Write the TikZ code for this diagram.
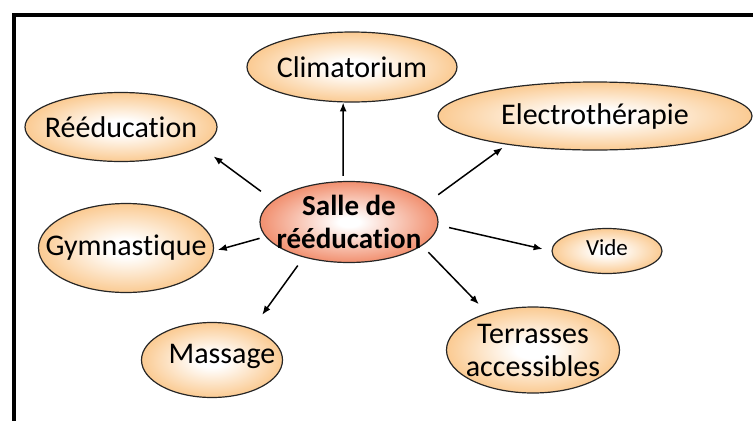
\documentclass[tikz,border=0pt]{standalone}
\usepackage{fontspec}
\setmainfont{Carlito}[Ligatures={NoCommon}]
\usetikzlibrary{shapes,arrows,arrows.meta}
\definecolor{orclair}{RGB}{249,184,108}
\definecolor{orfonce}{RGB}{238,118,78}
\pgfdeclareradialshading{bulleclair}{\pgfpoint{0bp}{0bp}}{color(0bp)=(white); color(5bp)=(white); color(32bp)=(orclair); color(50bp)=(orclair)}
\pgfdeclareradialshading{bullefonce}{\pgfpoint{0bp}{0bp}}{color(0bp)=(white); color(3bp)=(white); color(30bp)=(orfonce); color(50bp)=(orfonce)}

\begin{document}
\begin{tikzpicture}[x=1pt, y=-1pt,
  bulle/.style={ellipse, draw=black!85, line width=1.2pt, shade, shading=bulleclair, inner sep=0pt},
  fleche/.style={-{Latex[length=9pt,width=7pt]}, line width=1.5pt},
  every label/.style={font=\fontsize{30}{33}\selectfont, align=center, inner sep=0pt}]
\useasboundingbox (0,0) rectangle (753,421);
\draw[line width=4pt] (753,15) -| (14,421);

% centre
\node[bulle, shading=bullefonce, minimum width=178pt, minimum height=81pt,
  label={[font=\bfseries\fontsize{29}{33}\selectfont]center:Salle de\\rééducation}] (salle) at (349,222) {};

% bulles autour
\node[bulle, minimum width=210pt, minimum height=70pt, label=center:Climatorium] (clim) at (352,67) {};
\node[bulle, minimum width=192pt, minimum height=69pt, label=center:Rééducation] (reed) at (121,127) {};
\node[bulle, minimum width=314pt, minimum height=68pt, label=center:Electrothérapie] (elec) at (595,116) {};
\node[bulle, minimum width=175pt, minimum height=89pt, label=center:Gymnastique] (gym) at (126,248) {};
\node[bulle, minimum width=110pt, minimum height=45pt, label={[font=\fontsize{23}{26}\selectfont, yshift=3pt]center:Vide}] (vide) at (607,251) {};
\node[bulle, minimum width=141pt, minimum height=75pt, label={[xshift=10pt, yshift=4pt]center:Massage}] (mass) at (212,360) {};
\node[bulle, minimum width=173pt, minimum height=86pt, label={center:Terrasses\\accessibles}] (terr) at (533,350) {};

\foreach \a/\b/\c/\s/\t in {98/clim/-104/5/0, 164/reed/-14/15/16, 14/elec/-162/13/5, 190/gym/-2/6/4,
  -2/vide/180/11/9, -142/mass/38/10/17, -18/terr/141/9/12}
  {\draw[fleche, shorten <=\s pt, shorten >=\t pt] (salle.\a) -- (\b.\c);}
\end{tikzpicture}
\end{document}
